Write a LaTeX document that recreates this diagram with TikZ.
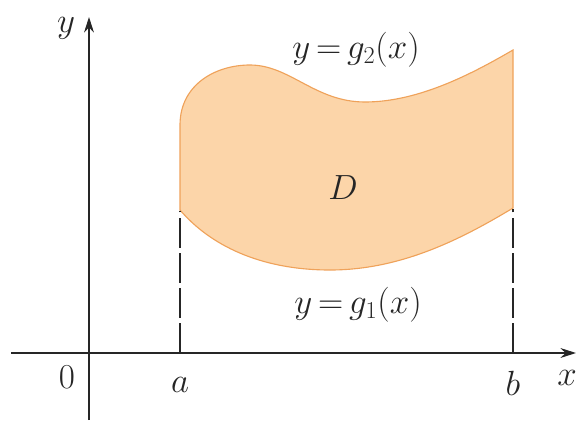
\documentclass[tikz,border=0pt]{standalone}
\usetikzlibrary{positioning,arrows.meta}
\definecolor{regionfill}{HTML}{FCD5A9}
\definecolor{regionedge}{HTML}{EFA25A}
\definecolor{axisdark}{HTML}{262626}

\begin{document}
\begin{tikzpicture}[
  x=0.025cm, y=-0.025cm,
  axisline/.style={draw=axisdark, line width=1pt, -{Stealth[length=11pt, width=7pt]}},
  dropline/.style={draw=axisdark, line width=0.8pt, dash pattern=on 21pt off 4pt},
  lbl/.style={font=\fontsize{23}{28}\selectfont, text=axisdark, inner sep=0pt},
]
% canvas in pixel units of the 577x420 figure (y grows downward)
\useasboundingbox (0,0) rectangle (577,420);

\def\xa{180}   % left edge of D
\def\xb{513}   % right edge of D
\def\yax{353}  % level of the x-axis

% --- region D between g1 (below) and g2 (above)
\filldraw[fill=regionfill, draw=regionedge, line width=0.8pt]
  (\xa,210) -- (\xa,125)
  .. controls (\xa,85) and (215,65) .. (250,65)
  .. controls (290,65) and (315,102) .. (365,102)
  .. controls (420,102) and (475,72) .. (\xb,50)
  -- (\xb,208)
  .. controls (460,240) and (400,270) .. (330,270)
  .. controls (260,270) and (210,245) .. (\xa,210) -- cycle;

% --- axes
\coordinate (ybot) at (89,420);
\coordinate (ytop) at (89,17);
\coordinate (xleft) at (11,\yax);
\coordinate (xright) at (576,\yax);
\draw[axisline] (ybot) -- (ytop);
\draw[axisline] (xleft) -- (xright);

% --- dashed drops from the ends of D
\coordinate (acorner) at (\xa,211);
\coordinate (afoot) at (\xa,\yax);
\coordinate (bcorner) at (\xb,209);
\coordinate (bfoot) at (\xb,\yax);
\draw[dropline] (afoot) -- (acorner);
\draw[dropline] (bfoot) -- (bcorner);

% --- labels
\node[lbl] (ylbl) at (66,28) {$y$};
\node[lbl] (xlbl) at (567,378) {$x$};
\node[lbl] (orig) at (67,377) {$0$};
\node[lbl] (alab) at (180,385) {$a$};
\node[lbl] (blab) at (513,383) {$b$};
\node[lbl] (gtop) at (356,50) {$y\,{=}\,g_2(x)$};
\node[lbl] (gbot) at (358,305) {$y\,{=}\,g_1(x)$};
\node[lbl] (dlbl) at (343,188) {$D$};
\end{tikzpicture}
\end{document}
